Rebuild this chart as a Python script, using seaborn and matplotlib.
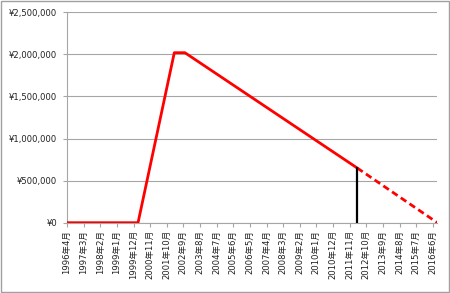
import matplotlib
matplotlib.use("Agg")
import matplotlib.pyplot as plt
import seaborn as sns
import pandas as pd
from matplotlib.ticker import FuncFormatter

# ---- data (month index counted from 1996年4月) ----
solid_month = [0, 47, 71, 78, 192]
solid_value = [0, 0, 2020000, 2020000, 650000]
dash_month = [192, 245]
dash_value = [650000, 0]
marker_month = [192, 192]
marker_value = [0, 650000]

tick_months = [0, 11, 22, 33, 44, 55, 66, 77, 88, 99, 110, 121, 132, 143,
               154, 165, 176, 187, 198, 209, 220, 231, 242]
tick_labels = ["1996年4月", "1997年3月", "1998年2月", "1999年1月", "1999年12月",
               "2000年11月", "2001年10月", "2002年9月", "2003年8月", "2004年7月",
               "2005年6月", "2006年5月", "2007年4月", "2008年3月", "2009年2月",
               "2010年1月", "2010年12月", "2011年11月", "2012年10月", "2013年9月",
               "2014年8月", "2015年7月", "2016年6月"]
y_ticks = [0, 500000, 1000000, 1500000, 2000000, 2500000]

sns.set_style("white")
plt.rcParams['font.family'] = ['DejaVu Sans', 'Noto Sans CJK JP']
plt.rcParams['font.size'] = 6.1

df_solid = pd.DataFrame({"month": solid_month, "value": solid_value})
df_dash = pd.DataFrame({"month": dash_month, "value": dash_value})
df_mark = pd.DataFrame({"month": marker_month, "value": marker_value})

fig = plt.figure(figsize=(4.5, 2.93), dpi=100)
ax = fig.add_axes([67/450, 1 - 222.7/293, (437.3 - 67)/450, (222.7 - 12.3)/293])

sns.lineplot(data=df_solid, x="month", y="value", ax=ax, color="#FF0000",
             linewidth=2.0, estimator=None, sort=False, zorder=3)
sns.lineplot(data=df_dash, x="month", y="value", ax=ax, color="#FF0000",
             linewidth=2.0, estimator=None, sort=False, zorder=3,
             linestyle=(0, (2.4, 1.4)))
sns.lineplot(data=df_mark, x="month", y="value", ax=ax, color="#000000",
             linewidth=1.6, estimator=None, sort=False, zorder=4)

ax.set_xlim(0, 245)
ax.set_ylim(0, 2500000)
ax.set_yticks(y_ticks)
ax.yaxis.set_major_formatter(FuncFormatter(lambda v, p: "¥{:,.0f}".format(v)))
ax.set_xticks(tick_months)
ax.set_xticklabels(tick_labels, rotation=90)
ax.set_xlabel("")
ax.set_ylabel("")

ax.grid(axis="y", color="#A6A6A6", linewidth=0.8)
ax.set_axisbelow(True)
for s in ["top", "right"]:
    ax.spines[s].set_visible(False)
for s in ["left", "bottom"]:
    ax.spines[s].set_color("#A6A6A6")
    ax.spines[s].set_linewidth(0.8)
ax.tick_params(axis="x", length=3, width=0.8, color="#A6A6A6", pad=2,
               labelcolor="#222222", direction="out", bottom=True)
ax.tick_params(axis="y", length=3, width=0.8, color="#A6A6A6", pad=4,
               labelcolor="#222222", direction="out", left=True)

# figure border
fig.patches.append(plt.Rectangle((0.002, 0.004), 0.995, 0.992, transform=fig.transFigure,
                                 fill=False, edgecolor="#A0A0A0", linewidth=1.0))

fig.savefig("out.png", dpi=100)
